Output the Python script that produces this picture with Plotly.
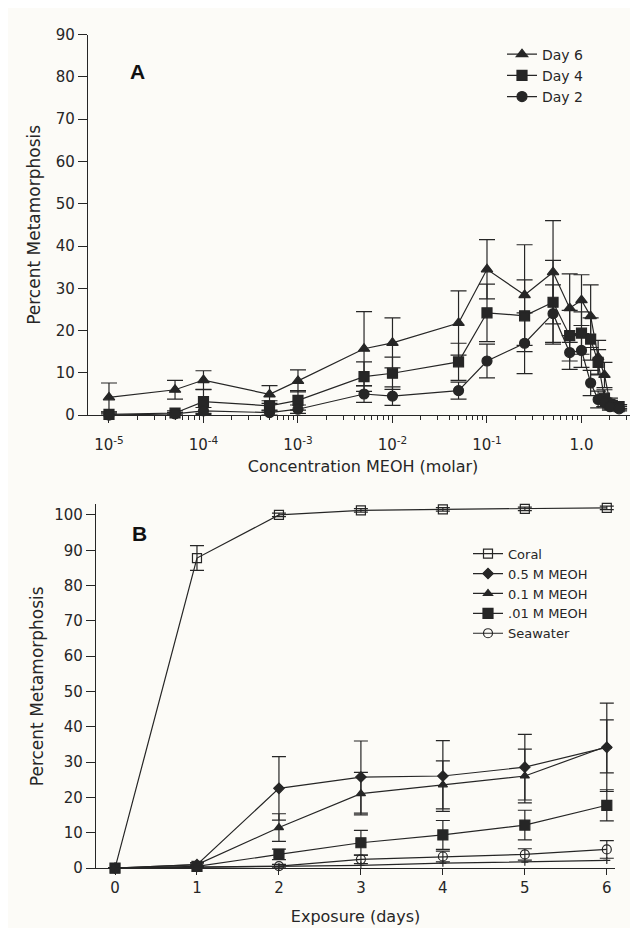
import plotly.graph_objects as go

# ---------------- Panel A data ----------------
conc_molar = [1e-5, 5e-5, 1e-4, 5e-4, 1e-3, 5e-3, 1e-2, 5e-2, 0.1, 0.25, 0.5,
              0.75, 1.0, 1.25, 1.5, 1.75, 2.0, 2.5]
day6 = [4.2, 6.0, 8.3, 4.9, 8.1, 15.7, 17.1, 21.8, 34.5, 28.4, 33.8,
        25.3, 27.2, 23.4, 13.7, 9.5, 3.0, 2.0]
day6_err = [3.4, 2.2, 2.2, 2.1, 2.6, 8.8, 5.9, 7.6, 7.0, 11.9, 12.2,
            8.1, 6.0, 7.4, 4.0, 3.0, 1.0, 0.5]
day4 = [0.2, 0.5, 3.2, 2.2, 3.5, 9.1, 9.9, 12.6, 24.2, 23.5, 26.7,
        18.8, 19.4, 18.0, 12.5, 4.0, 2.5, 2.0]
day4_err = [0.5, 0.5, 2.8, 1.2, 2.3, 3.5, 3.8, 4.4, 6.8, 8.5, 9.9,
            6.0, 5.0, 5.0, 3.0, 2.0, 1.0, 0.5]
day2 = [0.0, 0.3, 1.0, 0.6, 1.4, 5.0, 4.5, 5.8, 12.8, 17.0, 24.0,
        14.8, 15.3, 7.6, 3.7, 3.0, 2.0, 1.5]
day2_err = [0.3, 0.3, 0.8, 0.6, 1.0, 2.0, 2.2, 2.0, 4.0, 7.2, 6.8,
            4.0, 4.0, 3.0, 2.0, 1.0, 0.8, 0.5]

a_tickvals = [1e-5, 1e-4, 1e-3, 1e-2, 1e-1, 1.0]
a_ticktext = ["10<sup>-5</sup>", "10<sup>-4</sup>", "10<sup>-3</sup>",
              "10<sup>-2</sup>", "10<sup>-1</sup>", "1.0"]

# ---------------- Panel B data ----------------
days = [0, 1, 2, 3, 4, 5, 6]
coral = [0, 87.8, 100, 101.3, 101.6, 101.7, 102]
coral_err = [0, 3.5, 0.5, 0.5, 0.5, 0.5, 0.5]
meoh_05 = [0, 1.0, 22.6, 25.8, 26.1, 28.6, 34.2]
meoh_05_err = [0, 0.5, 9.0, 10.2, 10.0, 9.3, 12.5]
meoh_01 = [0, 1.0, 11.5, 21.1, 23.6, 26.1, 34.5]
meoh_01_err = [0, 0.5, 3.9, 6.0, 6.8, 7.6, 7.5]
meoh_001 = [0, 0.5, 3.9, 7.2, 9.4, 12.2, 17.8]
meoh_001_err = [0, 0.3, 1.5, 3.5, 4.1, 4.2, 4.4]
seawater = [0, 0.3, 0.6, 2.5, 3.3, 3.9, 5.3]
seawater_err = [0, 0.2, 0.5, 1.2, 1.5, 1.6, 2.5]
baseline_extra = [0, 0.3, 0.5, 0.8, 1.4, 1.7, 2.2]

INK = "#262626"
BG = "#fcfbf7"
FONT = "DejaVu Sans"
W, H = 638, 928

fig = go.Figure()


def add(x, y, err, name, symbol, size, xa, ya, legend, showlegend=True, cap=8):
    fig.add_trace(go.Scatter(
        x=x, y=y, name=name, mode="lines+markers",
        xaxis=xa, yaxis=ya, legend=legend, showlegend=showlegend,
        line=dict(color=INK, width=1.2),
        marker=dict(symbol=symbol, size=size, color=INK,
                    line=dict(color=INK, width=1.2)),
        error_y=dict(type="data", array=err, visible=True, color=INK,
                     thickness=1.2, width=cap) if err is not None else None,
        cliponaxis=False,
    ))


# Panel A
add(conc_molar, day6, day6_err, "Day 6", "triangle-up", 10, "x", "y", "legend")
add(conc_molar, day4, day4_err, "Day 4", "square", 10, "x", "y", "legend")
add(conc_molar, day2, day2_err, "Day 2", "circle", 10, "x", "y", "legend")

# Panel B
add(days, coral, coral_err, "Coral", "square-open", 9, "x2", "y2", "legend2", cap=7)
add(days, meoh_05, meoh_05_err, "0.5 M MEOH", "diamond", 8, "x2", "y2", "legend2", cap=7)
add(days, meoh_01, meoh_01_err, "0.1 M MEOH", "triangle-up", 8, "x2", "y2", "legend2", cap=7)
add(days, meoh_001, meoh_001_err, ".01 M MEOH", "square", 10, "x2", "y2", "legend2", cap=7)
add(days, seawater, seawater_err, "Seawater", "circle-open", 9, "x2", "y2", "legend2", cap=7)
add(days, baseline_extra, None, "baseline", "cross-thin-open", 5, "x2", "y2", "legend2",
    showlegend=False)

minor_a = []
for d in range(-5, 1):
    for k in range(2, 10):
        v = k * 10 ** d
        if v < 3.9:
            minor_a.append(v)

axis_common = dict(showline=True, linecolor=INK, linewidth=1.2, ticks="outside",
                   tickcolor=INK, tickwidth=1.2, showgrid=False, zeroline=False,
                   tickfont=dict(family=FONT, size=15, color=INK))

fig.update_layout(
    width=W, height=H,
    margin=dict(l=0, r=0, t=0, b=0),
    paper_bgcolor=BG, plot_bgcolor=BG,
    font=dict(family=FONT, color=INK),
    xaxis=dict(**axis_common, type="log", domain=[80 / W, 630 / W],
               range=[-5.222, 0.598], anchor="y",
               tickvals=a_tickvals, ticktext=a_ticktext, ticklen=7,
               ticklabelstandoff=9,
               minor=dict(tickvals=minor_a, ticks="outside", ticklen=4,
                          tickcolor=INK, showgrid=False),
               title=dict(text="Concentration MEOH (molar)",
                          font=dict(family=FONT, size=16, color=INK), standoff=7)),
    yaxis=dict(**axis_common, domain=[1 - 406 / H, 1 - 18 / H], range=[0, 90],
               anchor="x", tickvals=list(range(0, 100, 10)), ticklen=9,
               title=dict(text="Percent Metamorphosis",
                          font=dict(family=FONT, size=17, color=INK), standoff=10)),
    xaxis2=dict(**axis_common, domain=[88 / W, 607 / W], range=[-0.232, 6.1],
                anchor="y2", tickvals=days, ticklen=6,
                title=dict(text="Exposure (days)",
                           font=dict(family=FONT, size=16, color=INK), standoff=14)),
    yaxis2=dict(**axis_common, domain=[1 - 868 / H, 1 - 497 / H], range=[0, 103],
                anchor="x2", tickvals=list(range(0, 110, 10)), ticklen=9,
                title=dict(text="Percent Metamorphosis",
                           font=dict(family=FONT, size=17, color=INK), standoff=6)),
    legend=dict(x=494 / W, y=1 - 22 / H, xanchor="left", yanchor="top",
                bgcolor="rgba(0,0,0,0)", font=dict(family=FONT, size=14, color=INK),
                itemwidth=30, tracegroupgap=0),
    legend2=dict(x=460 / W, y=1 - 532 / H, xanchor="left", yanchor="top",
                 bgcolor="rgba(0,0,0,0)", font=dict(family=FONT, size=13, color=INK),
                 itemwidth=30, tracegroupgap=0),
    annotations=[
        dict(text="<b>A</b>", x=120 / W, y=1 - 42 / H, xref="paper", yref="paper",
             showarrow=False, font=dict(family="Liberation Sans", size=21, color="#111")),
        dict(text="<b>B</b>", x=122 / W, y=1 - 527 / H, xref="paper", yref="paper",
             showarrow=False, font=dict(family="Liberation Sans", size=21, color="#111")),
    ],
)

fig.write_html("out.html")
